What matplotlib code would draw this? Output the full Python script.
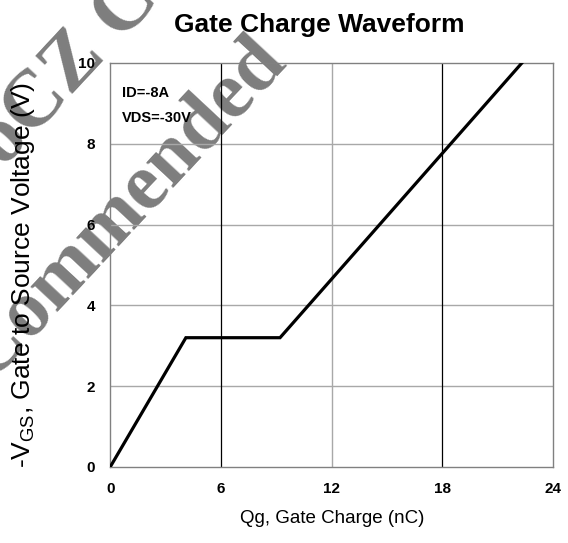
import matplotlib.pyplot as plt
import numpy as np

# gate charge curve
qg = [0.0, 4.1, 9.2, 22.3]
vgs = [0.0, 3.2, 3.2, 10.0]

x_ticks = [0, 6, 12, 18, 24]
y_ticks = [0, 2, 4, 6, 8, 10]

plt.rcParams['font.family'] = ['Liberation Sans', 'DejaVu Sans']

fig = plt.figure(figsize=(5.68, 5.43), dpi=100)
ax = fig.add_axes([0.194, 0.140, 0.780, 0.744])
ax.set_facecolor('none')

# watermark, sits under the chart
wm = dict(family=['Liberation Serif', 'DejaVu Serif'], weight='bold', fontsize=58,
          color='#7d7d7d', rotation=47, rotation_mode='anchor', zorder=-1)
fig.text(-0.021, 0.295, 'Commended', ha='left', va='baseline', **wm)
fig.text(0.006, 0.690, 'oCZ Co', ha='left', va='baseline', **wm)

ax.plot(qg, vgs, color='black', lw=2.3, solid_joinstyle='miter', zorder=3)

ax.set_xlim(0, 24)
ax.set_ylim(0, 10)
ax.set_xticks(x_ticks)
ax.set_yticks(y_ticks)
ax.tick_params(length=0, labelsize=11, pad=11)
for lab in ax.get_xticklabels() + ax.get_yticklabels():
    lab.set_fontweight('bold')

for y in y_ticks[1:-1]:
    ax.axhline(y, color='#a8a8a8', lw=1.0, zorder=1)
for x in [6, 18]:
    ax.axvline(x, color='black', lw=0.9, zorder=1)
ax.axvline(12, color='#a8a8a8', lw=1.0, zorder=1)
for s in ax.spines.values():
    s.set_color('#808080')
    s.set_linewidth(1.0)

ax.text(0.65, 9.25, 'ID=-8A', fontsize=10.5, fontweight='bold', va='center')
ax.text(0.65, 8.63, 'VDS=-30V', fontsize=10.5, fontweight='bold', va='center')

ax.set_title('Gate Charge Waveform', fontsize=19, fontweight='bold', pad=22, x=0.472)
ax.set_xlabel('Qg, Gate Charge (nC)', fontsize=13.5, labelpad=10)
ax.set_ylabel('-V$_{\\mathregular{GS}}$, Gate to Source Voltage (V)', fontsize=19)
ax.yaxis.set_label_coords(-0.165, 0.475)

fig.savefig('out.png', dpi=100)
